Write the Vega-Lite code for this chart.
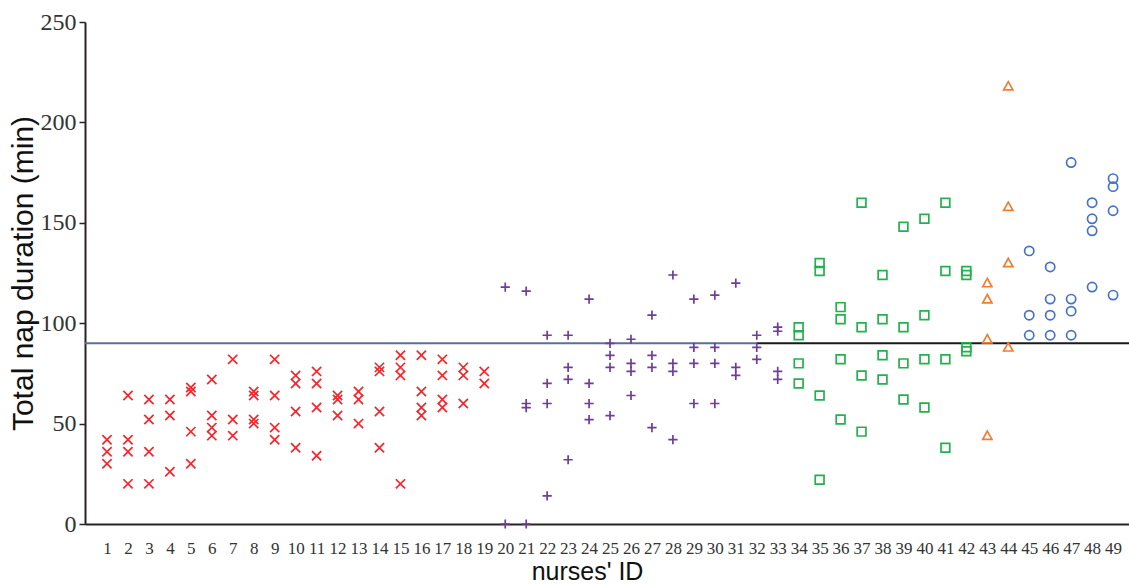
{
  "$schema": "https://vega.github.io/schema/vega-lite/v6.json",
  "autosize": "none",
  "width": 1044,
  "height": 502,
  "padding": {"left": 85, "top": 22, "right": 0, "bottom": 61},
  "background": "white",
  "config": {"view": {"stroke": null}},
  "resolve": {"scale": {"color": "independent"}},
  "datasets": {
    "naps": [
      {"nurse":1,"minutes":42,"group":"A"},{"nurse":1,"minutes":36,"group":"A"},{"nurse":1,"minutes":30,"group":"A"},
      {"nurse":2,"minutes":64,"group":"A"},{"nurse":2,"minutes":42,"group":"A"},{"nurse":2,"minutes":36,"group":"A"},{"nurse":2,"minutes":20,"group":"A"},
      {"nurse":3,"minutes":62,"group":"A"},{"nurse":3,"minutes":52,"group":"A"},{"nurse":3,"minutes":36,"group":"A"},{"nurse":3,"minutes":20,"group":"A"},
      {"nurse":4,"minutes":62,"group":"A"},{"nurse":4,"minutes":54,"group":"A"},{"nurse":4,"minutes":26,"group":"A"},
      {"nurse":5,"minutes":68,"group":"A"},{"nurse":5,"minutes":66,"group":"A"},{"nurse":5,"minutes":46,"group":"A"},{"nurse":5,"minutes":30,"group":"A"},
      {"nurse":6,"minutes":72,"group":"A"},{"nurse":6,"minutes":54,"group":"A"},{"nurse":6,"minutes":48,"group":"A"},{"nurse":6,"minutes":44,"group":"A"},
      {"nurse":7,"minutes":82,"group":"A"},{"nurse":7,"minutes":52,"group":"A"},{"nurse":7,"minutes":44,"group":"A"},
      {"nurse":8,"minutes":66,"group":"A"},{"nurse":8,"minutes":64,"group":"A"},{"nurse":8,"minutes":52,"group":"A"},{"nurse":8,"minutes":50,"group":"A"},
      {"nurse":9,"minutes":82,"group":"A"},{"nurse":9,"minutes":64,"group":"A"},{"nurse":9,"minutes":48,"group":"A"},{"nurse":9,"minutes":42,"group":"A"},
      {"nurse":10,"minutes":74,"group":"A"},{"nurse":10,"minutes":70,"group":"A"},{"nurse":10,"minutes":56,"group":"A"},{"nurse":10,"minutes":38,"group":"A"},
      {"nurse":11,"minutes":76,"group":"A"},{"nurse":11,"minutes":70,"group":"A"},{"nurse":11,"minutes":58,"group":"A"},{"nurse":11,"minutes":34,"group":"A"},
      {"nurse":12,"minutes":64,"group":"A"},{"nurse":12,"minutes":62,"group":"A"},{"nurse":12,"minutes":54,"group":"A"},
      {"nurse":13,"minutes":66,"group":"A"},{"nurse":13,"minutes":62,"group":"A"},{"nurse":13,"minutes":50,"group":"A"},
      {"nurse":14,"minutes":78,"group":"A"},{"nurse":14,"minutes":76,"group":"A"},{"nurse":14,"minutes":56,"group":"A"},{"nurse":14,"minutes":38,"group":"A"},
      {"nurse":15,"minutes":84,"group":"A"},{"nurse":15,"minutes":78,"group":"A"},{"nurse":15,"minutes":74,"group":"A"},{"nurse":15,"minutes":20,"group":"A"},
      {"nurse":16,"minutes":84,"group":"A"},{"nurse":16,"minutes":66,"group":"A"},{"nurse":16,"minutes":58,"group":"A"},{"nurse":16,"minutes":54,"group":"A"},
      {"nurse":17,"minutes":82,"group":"A"},{"nurse":17,"minutes":74,"group":"A"},{"nurse":17,"minutes":62,"group":"A"},{"nurse":17,"minutes":58,"group":"A"},
      {"nurse":18,"minutes":78,"group":"A"},{"nurse":18,"minutes":74,"group":"A"},{"nurse":18,"minutes":60,"group":"A"},
      {"nurse":19,"minutes":76,"group":"A"},{"nurse":19,"minutes":70,"group":"A"},
      {"nurse":20,"minutes":118,"group":"B"},{"nurse":20,"minutes":0,"group":"B"},
      {"nurse":21,"minutes":116,"group":"B"},{"nurse":21,"minutes":60,"group":"B"},{"nurse":21,"minutes":58,"group":"B"},{"nurse":21,"minutes":0,"group":"B"},
      {"nurse":22,"minutes":94,"group":"B"},{"nurse":22,"minutes":70,"group":"B"},{"nurse":22,"minutes":60,"group":"B"},{"nurse":22,"minutes":14,"group":"B"},
      {"nurse":23,"minutes":94,"group":"B"},{"nurse":23,"minutes":78,"group":"B"},{"nurse":23,"minutes":72,"group":"B"},{"nurse":23,"minutes":32,"group":"B"},
      {"nurse":24,"minutes":112,"group":"B"},{"nurse":24,"minutes":70,"group":"B"},{"nurse":24,"minutes":60,"group":"B"},{"nurse":24,"minutes":52,"group":"B"},
      {"nurse":25,"minutes":90,"group":"B"},{"nurse":25,"minutes":84,"group":"B"},{"nurse":25,"minutes":78,"group":"B"},{"nurse":25,"minutes":54,"group":"B"},
      {"nurse":26,"minutes":92,"group":"B"},{"nurse":26,"minutes":80,"group":"B"},{"nurse":26,"minutes":76,"group":"B"},{"nurse":26,"minutes":64,"group":"B"},
      {"nurse":27,"minutes":104,"group":"B"},{"nurse":27,"minutes":84,"group":"B"},{"nurse":27,"minutes":78,"group":"B"},{"nurse":27,"minutes":48,"group":"B"},
      {"nurse":28,"minutes":124,"group":"B"},{"nurse":28,"minutes":80,"group":"B"},{"nurse":28,"minutes":76,"group":"B"},{"nurse":28,"minutes":42,"group":"B"},
      {"nurse":29,"minutes":112,"group":"B"},{"nurse":29,"minutes":88,"group":"B"},{"nurse":29,"minutes":80,"group":"B"},{"nurse":29,"minutes":60,"group":"B"},
      {"nurse":30,"minutes":114,"group":"B"},{"nurse":30,"minutes":88,"group":"B"},{"nurse":30,"minutes":80,"group":"B"},{"nurse":30,"minutes":60,"group":"B"},
      {"nurse":31,"minutes":120,"group":"B"},{"nurse":31,"minutes":78,"group":"B"},{"nurse":31,"minutes":74,"group":"B"},
      {"nurse":32,"minutes":94,"group":"B"},{"nurse":32,"minutes":88,"group":"B"},{"nurse":32,"minutes":82,"group":"B"},
      {"nurse":33,"minutes":98,"group":"B"},{"nurse":33,"minutes":96,"group":"B"},{"nurse":33,"minutes":76,"group":"B"},{"nurse":33,"minutes":72,"group":"B"},
      {"nurse":34,"minutes":98,"group":"C"},{"nurse":34,"minutes":94,"group":"C"},{"nurse":34,"minutes":80,"group":"C"},{"nurse":34,"minutes":70,"group":"C"},
      {"nurse":35,"minutes":130,"group":"C"},{"nurse":35,"minutes":126,"group":"C"},{"nurse":35,"minutes":64,"group":"C"},{"nurse":35,"minutes":22,"group":"C"},
      {"nurse":36,"minutes":108,"group":"C"},{"nurse":36,"minutes":102,"group":"C"},{"nurse":36,"minutes":82,"group":"C"},{"nurse":36,"minutes":52,"group":"C"},
      {"nurse":37,"minutes":160,"group":"C"},{"nurse":37,"minutes":98,"group":"C"},{"nurse":37,"minutes":74,"group":"C"},{"nurse":37,"minutes":46,"group":"C"},
      {"nurse":38,"minutes":124,"group":"C"},{"nurse":38,"minutes":102,"group":"C"},{"nurse":38,"minutes":84,"group":"C"},{"nurse":38,"minutes":72,"group":"C"},
      {"nurse":39,"minutes":148,"group":"C"},{"nurse":39,"minutes":98,"group":"C"},{"nurse":39,"minutes":80,"group":"C"},{"nurse":39,"minutes":62,"group":"C"},
      {"nurse":40,"minutes":152,"group":"C"},{"nurse":40,"minutes":104,"group":"C"},{"nurse":40,"minutes":82,"group":"C"},{"nurse":40,"minutes":58,"group":"C"},
      {"nurse":41,"minutes":160,"group":"C"},{"nurse":41,"minutes":126,"group":"C"},{"nurse":41,"minutes":82,"group":"C"},{"nurse":41,"minutes":38,"group":"C"},
      {"nurse":42,"minutes":126,"group":"C"},{"nurse":42,"minutes":124,"group":"C"},{"nurse":42,"minutes":88,"group":"C"},{"nurse":42,"minutes":86,"group":"C"},
      {"nurse":43,"minutes":120,"group":"D"},{"nurse":43,"minutes":112,"group":"D"},{"nurse":43,"minutes":92,"group":"D"},{"nurse":43,"minutes":44,"group":"D"},
      {"nurse":44,"minutes":218,"group":"D"},{"nurse":44,"minutes":158,"group":"D"},{"nurse":44,"minutes":130,"group":"D"},{"nurse":44,"minutes":88,"group":"D"},
      {"nurse":45,"minutes":136,"group":"E"},{"nurse":45,"minutes":104,"group":"E"},{"nurse":45,"minutes":94,"group":"E"},
      {"nurse":46,"minutes":128,"group":"E"},{"nurse":46,"minutes":112,"group":"E"},{"nurse":46,"minutes":104,"group":"E"},{"nurse":46,"minutes":94,"group":"E"},
      {"nurse":47,"minutes":180,"group":"E"},{"nurse":47,"minutes":112,"group":"E"},{"nurse":47,"minutes":106,"group":"E"},{"nurse":47,"minutes":94,"group":"E"},
      {"nurse":48,"minutes":160,"group":"E"},{"nurse":48,"minutes":152,"group":"E"},{"nurse":48,"minutes":146,"group":"E"},{"nurse":48,"minutes":118,"group":"E"},
      {"nurse":49,"minutes":172,"group":"E"},{"nurse":49,"minutes":168,"group":"E"},{"nurse":49,"minutes":156,"group":"E"},{"nurse":49,"minutes":114,"group":"E"}
    ],
    "reference": [
      {"segment":"left","start":-0.05,"end":32,"minutes":90},
      {"segment":"right","start":32,"end":49.76,"minutes":90}
    ]
  },
  "layer": [
    {
      "data": {"name": "reference"},
      "mark": {"type": "rule", "strokeWidth": 2},
      "encoding": {
        "x": {"field": "start", "type": "quantitative", "scale": {"domain": [-0.05, 49.76], "nice": false, "zero": false}},
        "x2": {"field": "end"},
        "y": {"field": "minutes", "type": "quantitative"},
        "color": {"field": "segment", "type": "nominal", "scale": {"domain": ["left", "right"], "range": ["#5a7191", "#1a1a1a"]}, "legend": null}
      }
    },
    {
      "data": {"name": "naps"},
      "mark": {"type": "point", "filled": false, "size": 85, "strokeWidth": 1.7, "opacity": 1},
      "encoding": {
        "x": {
          "field": "nurse", "type": "quantitative",
          "scale": {"domain": [-0.05, 49.76], "nice": false, "zero": false},
          "axis": {
            "title": "nurses' ID",
            "values": [1,2,3,4,5,6,7,8,9,10,11,12,13,14,15,16,17,18,19,20,21,22,23,24,25,26,27,28,29,30,31,32,33,34,35,36,37,38,39,40,41,42,43,44,45,46,47,48,49],
            "tickCount": 60,
            "format": "d",
            "labelOverlap": false,
            "grid": false, "ticks": false,
            "domainColor": "#2a2222", "domainWidth": 2,
            "labelFont": "Liberation Serif", "labelFontSize": 17, "labelColor": "#333333", "labelPadding": 16,
            "titleFont": "Liberation Sans", "titleFontSize": 25, "titleFontWeight": "normal", "titleColor": "#111111",
            "titleX": 502, "titleY": 55, "titleBaseline": "alphabetic", "titleAlign": "center"
          }
        },
        "y": {
          "field": "minutes", "type": "quantitative",
          "scale": {"domain": [0, 250], "nice": false},
          "axis": {
            "title": "Total nap duration (min)",
            "values": [0, 50, 100, 150, 200, 250],
            "grid": false,
            "domainColor": "#2a2222", "domainWidth": 2,
            "tickColor": "#2a2222", "tickSize": 6, "tickWidth": 1.5,
            "labelFont": "Liberation Serif", "labelFontSize": 24, "labelColor": "#333333", "labelPadding": 3,
            "titleFont": "Liberation Sans", "titleFontSize": 30, "titleFontWeight": "normal", "titleColor": "#111111", "titlePadding": 2
          }
        },
        "color": {
          "field": "group", "type": "nominal",
          "scale": {"domain": ["A","B","C","D","E"], "range": ["#f0282d", "#6f3c9a", "#22b14c", "#ef7d31", "#4472c4"]},
          "legend": null
        },
        "shape": {
          "field": "group", "type": "nominal",
          "scale": {"domain": ["A","B","C","D","E"], "range": [
            "M-1,-1L1,1M-1,1L1,-1",
            "M-1,0L1,0M0,-1L0,1",
            "M-0.95,-0.95H0.95V0.95H-0.95Z",
            "M0,-1L1,0.8L-1,0.8Z",
            "M1,0A1,1,0,1,1,-1,0A1,1,0,1,1,1,0Z"
          ]},
          "legend": null
        }
      }
    }
  ]
}
